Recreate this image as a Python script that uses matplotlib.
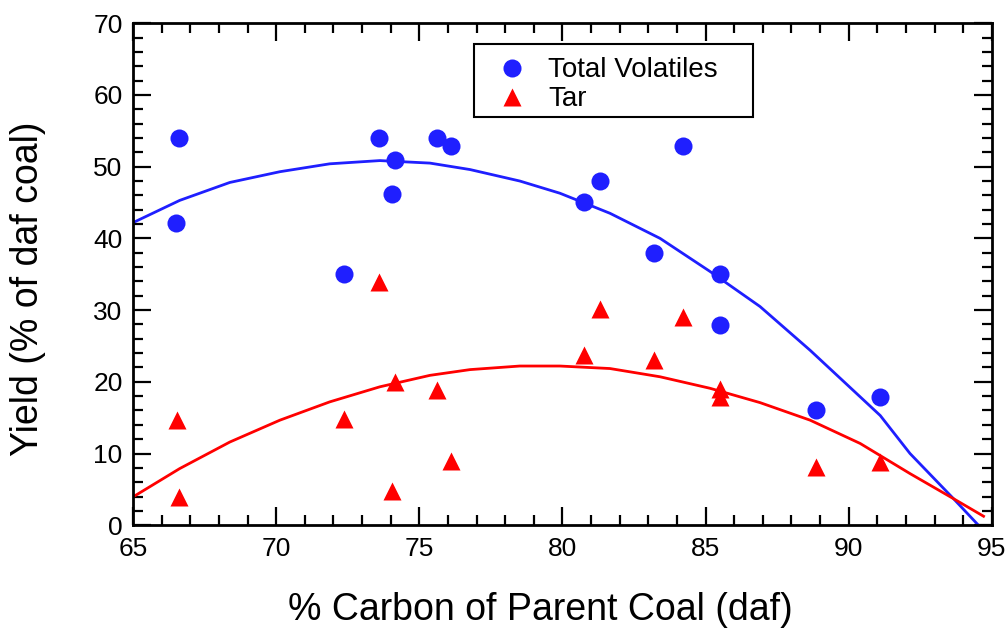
import matplotlib
matplotlib.use("Agg")
import matplotlib.pyplot as plt
from matplotlib.ticker import MultipleLocator
from matplotlib.patches import Rectangle

plt.rcParams['font.family'] = ['Liberation Sans', 'DejaVu Sans']

# Data
tv_carbon = [66.6, 66.5, 72.37, 73.6, 74.15, 74.06, 75.63, 76.1, 80.75, 81.31,
             83.19, 84.2, 85.5, 85.5, 88.86, 91.1]
tv_yield = [54.0, 42.1, 35.0, 54.0, 51.0, 46.2, 54.0, 52.9, 45.1, 48.0,
            38.0, 52.9, 35.0, 27.9, 16.0, 17.9]

tar_carbon = [66.52, 66.6, 72.37, 73.6, 74.15, 74.06, 75.63, 76.1, 80.75, 81.31,
              83.19, 84.22, 85.5, 85.5, 88.86, 91.1]
tar_yield = [14.7, 4.0, 14.8, 33.9, 20.0, 4.8, 18.9, 8.9, 23.8, 30.1,
             23.1, 29.0, 19.0, 17.9, 8.1, 8.8]

# Fitted curves
tv_fit_x = [65.0, 66.63, 68.38, 70.13, 71.87, 73.62, 75.37, 76.77, 78.51, 79.91,
            81.66, 83.41, 85.15, 86.9, 88.65, 90.4, 91.1, 92.14, 93.66, 94.53]
tv_fit_y = [42.2, 45.3, 47.8, 49.3, 50.4, 50.85, 50.5, 49.6, 48.0, 46.3,
            43.5, 40.0, 35.4, 30.5, 24.4, 17.9, 15.3, 10.0, 3.7, 0.0]

tar_fit_x = [65.0, 66.63, 68.38, 70.13, 71.87, 73.62, 75.37, 76.77, 78.51, 79.91,
             81.66, 83.41, 85.15, 86.9, 88.65, 90.4, 92.14, 93.66, 94.71]
tar_fit_y = [3.95, 7.9, 11.6, 14.65, 17.2, 19.3, 20.9, 21.7, 22.2, 22.2,
             21.85, 20.7, 19.1, 17.1, 14.65, 11.4, 7.2, 3.7, 1.25]

BLUE = '#1f1fff'
RED = '#ff0000'

fig = plt.figure(figsize=(10.08, 6.29), dpi=100)
ax = fig.add_axes([0.132, 0.165, 0.852, 0.798])

ax.plot(tv_fit_x, tv_fit_y, color=BLUE, lw=2.0, zorder=2)
ax.plot(tar_fit_x, tar_fit_y, color=RED, lw=2.0, zorder=2)
ax.plot(tv_carbon, tv_yield, 'o', color=BLUE, ms=13, mec='none', label='Total Volatiles', zorder=3)
ax.plot(tar_carbon, tar_yield, '^', color=RED, ms=12.5, mec='none', label='Tar', zorder=3)

ax.set_xlim(65, 95)
ax.set_ylim(0, 70)
ax.xaxis.set_major_locator(MultipleLocator(5))
ax.xaxis.set_minor_locator(MultipleLocator(1))
ax.yaxis.set_major_locator(MultipleLocator(10))
ax.yaxis.set_minor_locator(MultipleLocator(2))
ax.tick_params(which='both', direction='in', top=True, right=True, labelsize=19,
               width=1.6, colors='black')
ax.tick_params(axis='x', which='both', pad=8.5)
ax.tick_params(axis='y', which='both', pad=7.5)
ax.tick_params(which='major', length=13)
ax.tick_params(which='minor', length=7)
for s in ax.spines.values():
    s.set_linewidth(2.0)

ax.set_xlabel('% Carbon of Parent Coal (daf)', fontsize=27)
ax.set_ylabel('Yield (% of daf coal)', fontsize=27)
ax.xaxis.set_label_coords(0.474, -0.133)
ax.yaxis.set_label_coords(-0.101, 0.472)

# legend frame
ax.add_patch(Rectangle((0.397, 0.813), 0.325, 0.145, transform=ax.transAxes,
                       facecolor='white', edgecolor='black', lw=1.5, zorder=4))
leg = ax.legend(loc='upper left', bbox_to_anchor=(0.425, 0.932), borderaxespad=0,
                fontsize=20, frameon=False, handletextpad=0.8, borderpad=0,
                labelspacing=0.11, handlelength=1.0, numpoints=1)
leg.set_zorder(5)

fig.savefig('out.png', dpi=100)
